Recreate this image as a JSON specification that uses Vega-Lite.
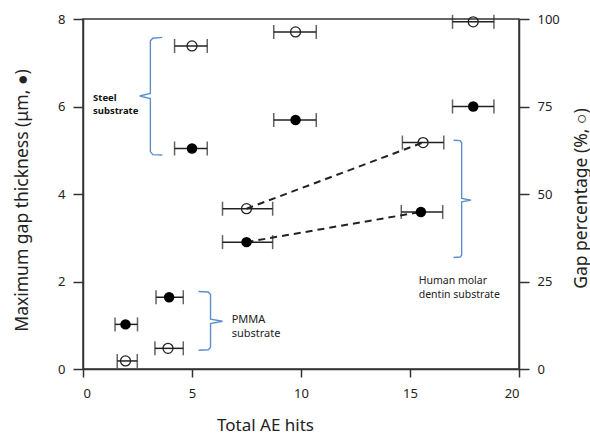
{
  "$schema": "https://vega.github.io/schema/vega-lite/v6.json",
  "width": 436,
  "height": 350,
  "autosize": "none",
  "padding": {"left": 83, "top": 19, "right": 71, "bottom": 65},
  "background": "white",
  "config": {
    "font": "Noto Sans",
    "view": {"stroke": "#333", "strokeWidth": 1.5},
    "axis": {
      "grid": false,
      "domainColor": "#333",
      "domainWidth": 1.5,
      "tickColor": "#333",
      "tickWidth": 1.5,
      "tickSize": 10,
      "labelFontSize": 13,
      "labelColor": "#222",
      "labelPadding": 6,
      "titleFontSize": 17.5,
      "titleFontWeight": "normal",
      "titleColor": "#222"
    }
  },
  "datasets": {
    "filled": [
      {"sub": "PMMA", "x": 1.95, "y": 1.02, "lo": 1.47, "hi": 2.5},
      {"sub": "PMMA", "x": 3.95, "y": 1.64, "lo": 3.35, "hi": 4.6},
      {"sub": "Steel", "x": 5.0, "y": 5.04, "lo": 4.2, "hi": 5.7},
      {"sub": "Steel", "x": 9.75, "y": 5.69, "lo": 8.75, "hi": 10.7},
      {"sub": "Steel", "x": 17.9, "y": 6.0, "lo": 16.95, "hi": 18.85},
      {"sub": "Human", "x": 7.5, "y": 2.9, "lo": 6.4, "hi": 8.7},
      {"sub": "Human", "x": 15.5, "y": 3.59, "lo": 14.6, "hi": 16.5}
    ],
    "open": [
      {"sub": "PMMA", "x": 1.95, "y": 2.3, "lo": 1.57, "hi": 2.49},
      {"sub": "PMMA", "x": 3.9, "y": 5.9, "lo": 3.3, "hi": 4.6},
      {"sub": "Steel", "x": 5.0, "y": 92.3, "lo": 4.2, "hi": 5.7},
      {"sub": "Steel", "x": 9.75, "y": 96.3, "lo": 8.75, "hi": 10.7},
      {"sub": "Steel", "x": 17.9, "y": 99.2, "lo": 16.95, "hi": 18.85},
      {"sub": "Human", "x": 7.5, "y": 45.8, "lo": 6.4, "hi": 8.7},
      {"sub": "Human", "x": 15.6, "y": 64.7, "lo": 14.65, "hi": 16.55}
    ],
    "brackets": [
      {"b": "Steel", "o": 1, "x": 3.64, "y": 7.58},
      {"b": "Steel", "o": 2, "x": 3.2, "y": 7.56},
      {"b": "Steel", "o": 3, "x": 3.09, "y": 7.5},
      {"b": "Steel", "o": 4, "x": 3.09, "y": 6.3},
      {"b": "Steel", "o": 5, "x": 2.6, "y": 6.24},
      {"b": "Steel", "o": 6, "x": 3.09, "y": 6.18},
      {"b": "Steel", "o": 7, "x": 3.09, "y": 4.97},
      {"b": "Steel", "o": 8, "x": 3.2, "y": 4.9},
      {"b": "Steel", "o": 9, "x": 3.64, "y": 4.89},
      {"b": "PMMA", "o": 1, "x": 5.3, "y": 1.77},
      {"b": "PMMA", "o": 2, "x": 5.75, "y": 1.76},
      {"b": "PMMA", "o": 3, "x": 5.85, "y": 1.7},
      {"b": "PMMA", "o": 4, "x": 5.85, "y": 1.14},
      {"b": "PMMA", "o": 5, "x": 6.4, "y": 1.09},
      {"b": "PMMA", "o": 6, "x": 5.85, "y": 1.04},
      {"b": "PMMA", "o": 7, "x": 5.85, "y": 0.5},
      {"b": "PMMA", "o": 8, "x": 5.75, "y": 0.44},
      {"b": "PMMA", "o": 9, "x": 5.3, "y": 0.43},
      {"b": "Human", "o": 1, "x": 17.0, "y": 5.23},
      {"b": "Human", "o": 2, "x": 17.3, "y": 5.22},
      {"b": "Human", "o": 3, "x": 17.37, "y": 5.17},
      {"b": "Human", "o": 4, "x": 17.37, "y": 3.9},
      {"b": "Human", "o": 5, "x": 17.8, "y": 3.86},
      {"b": "Human", "o": 6, "x": 17.37, "y": 3.82},
      {"b": "Human", "o": 7, "x": 17.37, "y": 2.6},
      {"b": "Human", "o": 8, "x": 17.3, "y": 2.56},
      {"b": "Human", "o": 9, "x": 17.0, "y": 2.55}
    ],
    "labels": [
      {"t": "PMMA\nsubstrate", "x": 6.82, "y": 1.11, "s": 11},
      {"t": "Human molar\ndentin substrate", "x": 15.4, "y": 2.02, "s": 10.5}
    ],
    "boldlabels": [
      {"t": "Steel\nsubstrate", "x": 0.46, "y": 6.2, "s": 9.5}
    ]
  },
  "layer": [
    {
      "encoding": {
        "x": {
          "field": "x", "type": "quantitative", "title": "Total  AE hits",
          "scale": {"domain": [0, 20], "nice": false},
          "axis": {"values": [0, 5, 10, 15, 20], "labelPadding": 10, "tickSize": 8, "titleX": 182, "titleY": 56, "titleBaseline": "middle", "titleFontSize": 17}
        },
        "y": {
          "field": "y", "type": "quantitative", "title": "Maximum gap thickness (μm, ●)",
          "scale": {"domain": [0, 8], "nice": false},
          "axis": {"values": [0, 2, 4, 6, 8], "labelPadding": 8, "titleX": -61, "titleY": 181, "titleBaseline": "middle", "titleAlign": "center", "titleAngle": 270}
        }
      },
      "layer": [
        {
          "data": {"name": "brackets"},
          "mark": {"type": "line", "color": "#5b8fd0", "strokeWidth": 1.4},
          "encoding": {"detail": {"field": "b"}, "order": {"field": "o", "type": "quantitative"}}
        },
        {
          "data": {"name": "labels"},
          "mark": {"type": "text", "align": "left", "baseline": "middle", "lineBreak": "\n", "color": "#222", "lineHeight": 14},
          "encoding": {
            "text": {"field": "t"},
            "size": {"field": "s", "type": "quantitative", "scale": null}
          }
        },
        {
          "data": {"name": "boldlabels"},
          "mark": {"type": "text", "align": "left", "baseline": "middle", "lineBreak": "\n", "color": "#111", "lineHeight": 13, "fontWeight": "bold"},
          "encoding": {
            "text": {"field": "t"},
            "size": {"field": "s", "type": "quantitative", "scale": null}
          }
        },
        {
          "data": {"name": "filled"},
          "transform": [{"filter": "datum.sub === 'Human'"}],
          "mark": {"type": "line", "color": "#222", "strokeWidth": 2, "strokeDash": [7, 5]},
          "encoding": {}
        },
        {
          "data": {"name": "filled"},
          "mark": {"type": "errorbar", "ticks": {"size": 14, "thickness": 1.5, "color": "#222"}, "rule": {"strokeWidth": 1.5, "color": "#222"}},
          "encoding": {
            "x": {"field": "lo", "type": "quantitative", "title": "Total  AE hits"},
            "x2": {"field": "hi"}
          }
        },
        {
          "data": {"name": "filled"},
          "mark": {"type": "point", "shape": "circle", "filled": true, "color": "black", "opacity": 1, "size": 110},
          "encoding": {}
        }
      ]
    },
    {
      "encoding": {
        "x": {"field": "x", "type": "quantitative", "title": "Total  AE hits", "scale": {"domain": [0, 20], "nice": false}},
        "y": {
          "field": "y", "type": "quantitative", "title": "Gap percentage (%, ○)",
          "scale": {"domain": [0, 100], "nice": false},
          "axis": {"orient": "right", "values": [0, 25, 50, 75, 100], "labelPadding": 8, "titleX": 62, "titleY": 179, "titleAngle": 270, "titleBaseline": "middle", "titleAlign": "center"}
        }
      },
      "layer": [
        {
          "data": {"name": "open"},
          "transform": [{"filter": "datum.sub === 'Human'"}],
          "mark": {"type": "line", "color": "#222", "strokeWidth": 2, "strokeDash": [7, 5]},
          "encoding": {}
        },
        {
          "data": {"name": "open"},
          "mark": {"type": "errorbar", "ticks": {"size": 14, "thickness": 1.5, "color": "#222"}, "rule": {"strokeWidth": 1.5, "color": "#222"}},
          "encoding": {
            "x": {"field": "lo", "type": "quantitative", "title": "Total  AE hits"},
            "x2": {"field": "hi"}
          }
        },
        {
          "data": {"name": "open"},
          "mark": {"type": "point", "shape": "circle", "filled": false, "stroke": "#222", "strokeWidth": 1.3, "opacity": 1, "size": 100},
          "encoding": {}
        }
      ]
    }
  ],
  "resolve": {"scale": {"y": "independent"}}
}
